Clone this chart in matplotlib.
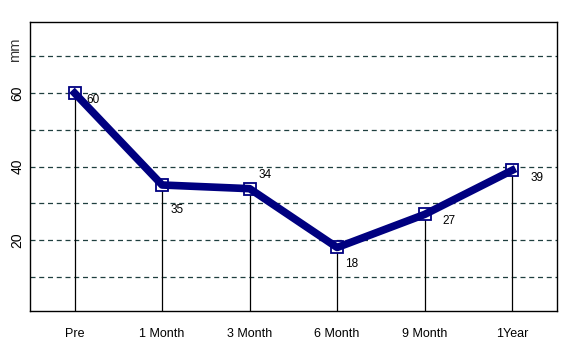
import matplotlib
matplotlib.use('Agg')
import matplotlib.pyplot as plt

labels = ['Pre', '1 Month', '3 Month', '6 Month', '9 Month', '1Year']
values = [60, 35, 34, 18, 27, 39]
# label offsets in pixels (dx, dy)
offsets = [(12, -7), (8, -25), (9, 14), (8, -17), (18, -7), (18, -8)]

plt.rcParams['font.family'] = ['Liberation Sans', 'DejaVu Sans']

fig = plt.figure(figsize=(5.77, 3.63), dpi=100)
ax = fig.add_axes([0.052, 0.143, 0.913, 0.796])

x = list(range(len(labels)))
ax.set_xlim(-0.51, 5.51)
ax.set_ylim(0.7, 79.3)

for yv in range(10, 80, 10):
    ax.axhline(yv, color='#1f3f3f', lw=0.9, ls=(0, (4, 3)), zorder=1)

ax.vlines(x, 0, values, color='black', lw=0.9, zorder=2)
ax.plot(x, values, ls='none', marker='s', ms=8, mfc='white', mec='#000080', mew=1.3, zorder=3)
ax.plot(x, values, color='#000080', lw=5.5, solid_joinstyle='round', zorder=4)

for xi, v, (dx, dy) in zip(x, values, offsets):
    ax.annotate(str(v), (xi, v), xytext=(dx, dy), textcoords='offset pixels',
                fontsize=8.5, ha='left', va='center', color='black')

ax.set_xticks(x)
ax.set_xticklabels(labels, fontsize=9)
ax.set_yticks([20, 40, 60])
ax.set_yticklabels(['20', '40', '60'], rotation=90, va='center', fontsize=10)
ax.tick_params(length=0)
ax.tick_params(axis='y', pad=4)
ax.tick_params(axis='x', pad=12)
ax.text(-0.028, 0.905, 'mm', rotation=90, transform=ax.transAxes, ha='center', va='center',
        fontsize=10.5, color='#333333')

for s in ax.spines.values():
    s.set_color('black')
    s.set_linewidth(1)

fig.savefig('out.png', dpi=100)
